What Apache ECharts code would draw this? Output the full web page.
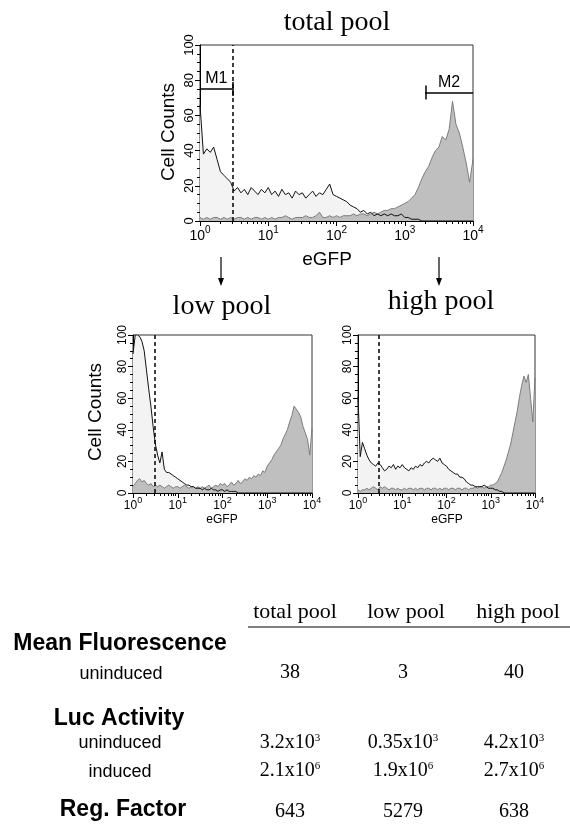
<!DOCTYPE html>
<html><head><meta charset="utf-8">
<script src="https://cdn.jsdelivr.net/npm/echarts@6/dist/echarts.min.js"></script>
<style>html,body{margin:0;padding:0;background:#fff}#c{width:570px;height:827px}</style>
</head><body><div id="c"></div>
<script>
const SANS = '"Liberation Sans", Arial, sans-serif';
const SERIF = '"Liberation Serif", "Times New Roman", serif';

// ---- data ----
const panelTitles = ['total pool', 'low pool', 'high pool'];
const channelsPerDecade = 20; // histogram channels: 0.05 decade each, from 10^0 to 10^4
const totalUninduced = [66,38,41,39,42,35,28,26,24,22, 17,19,16,18,15,19,17,15,18,16, 19,15,17,14,18,15,16,13,17,15, 16,13,15,17,14,16,15,18,21,15, 14,13,12,11,9,8,7,5,6,4, 5,3,4,3,4,3,4,3,3,4, 2,2,1,1,1,0,0,0,0,0, 0,0,0,0,0,0,0,0,0,0,0];
const totalInduced = [2,1,2,1,2,2,1,2,1,2, 1,2,2,1,2,1,2,2,1,2, 1,2,1,2,2,3,2,1,2,2, 2,3,2,2,3,5,2,2,3,2, 3,2,3,3,3,4,3,4,4,3, 4,5,4,5,6,6,7,7,8,9, 10,11,13,15,19,24,28,31,36,40, 42,48,46,52,68,55,50,42,33,22,35];
const lowUninduced = [88,100,100,99,96,90,78,66,55,42, 31,24,19,26,15,13,13,12,11,10, 9,8,7,6,5,5,4,4,3,3, 3,2,3,2,2,3,2,2,1,2, 2,1,2,1,1,1,1,0,0,0, 0,0,0,0,0,0,0,0,0,0, 0,0,0,0,0,0,0,0,0,0, 0,0,0,0,0,0,0,0,0,0,0];
const lowInduced = [4,6,8,9,7,8,6,5,6,4, 5,4,5,4,3,4,5,4,3,4, 4,3,4,5,4,3,4,4,3,4, 3,4,3,4,5,3,4,5,4,6, 5,6,4,5,7,5,6,8,6,7, 9,8,10,9,11,10,12,11,14,13, 17,19,21,24,26,28,30,34,37,40, 45,49,55,53,51,48,42,38,34,24,41];
const highUninduced = [61,23,32,28,24,21,19,18,17,19, 18,16,14,15,17,16,18,15,17,16, 18,16,15,14,16,15,17,16,18,17, 19,20,19,21,22,21,20,22,19,18, 17,15,14,13,12,12,10,10,9,7, 6,5,5,4,4,4,4,5,4,3, 3,3,2,2,1,1,0,0,0,0, 0,0,0,0,0,0,0,0,0,0,0];
const highInduced = [2,1,2,2,3,2,3,4,3,2, 4,3,4,3,2,3,3,2,3,2, 2,3,2,3,3,2,3,2,3,3, 2,3,3,2,3,3,2,3,2,3, 3,2,3,3,2,3,3,2,3,3, 2,3,3,4,3,4,4,3,4,4, 5,5,6,7,10,13,17,21,26,31, 38,45,52,61,68,74,70,75,60,45,73];
const dashedCut = 3;
const gateM1 = [1, 3], gateM1Level = 75;
const gateM2 = [2000, 10000], gateM2Level = 73;
const minorXTicks = [2,3,4,5,6,7,8,9,20,30,40,50,60,70,80,90,200,300,400,500,600,700,800,900,2000,3000,4000,5000,6000,7000,8000,9000];

const tableColumns = ['total pool', 'low pool', 'high pool'];
const meanFluorUninduced = ['38', '3', '40'];
const lucUninducedMant = ['3.2', '0.35', '4.2'], lucUninducedExp = ['3', '3', '3'];
const lucInducedMant = ['2.1', '1.9', '2.7'], lucInducedExp = ['6', '6', '6'];
const regFactor = ['643', '5279', '638'];

// ---- layout ----
const grids = [
  {left: 200, top: 45, width: 273, height: 176},
  {left: 133, top: 335, width: 179, height: 158},
  {left: 358, top: 335, width: 177, height: 158}
];
const labelSizes = [{b: 14, s: 10, y: 13, m: 4}, {b: 12, s: 9, y: 12, m: 3}, {b: 12, s: 9, y: 12, m: 3}];
const seriesSets = [[totalUninduced, totalInduced], [lowUninduced, lowInduced], [highUninduced, highInduced]];

function toPoints(vals) { return vals.map((v, i) => [Math.pow(10, i / channelsPerDecade), v]); }

const xAxes = [], yAxes = [], series = [];
grids.forEach((g, i) => {
  const ls = labelSizes[i];
  xAxes.push({
    type: 'log', logBase: 10, min: 1, max: 10000, gridIndex: i, position: 'bottom',
    axisLine: {show: true, lineStyle: {color: '#000', width: 1}},
    axisTick: {show: true, length: 5, lineStyle: {color: '#000'}},
    splitLine: {show: false},
    axisLabel: {
      margin: ls.m, color: '#000',
      formatter: v => '{b|10}{s|' + Math.round(Math.log10(v)) + '}',
      rich: {
        b: {fontSize: ls.b, fontFamily: SANS, color: '#000', lineHeight: ls.b + 4, verticalAlign: 'bottom'},
        s: {fontSize: ls.s, fontFamily: SANS, color: '#000', lineHeight: ls.s, verticalAlign: 'top'}
      }
    }
  });
  xAxes.push({
    type: 'log', logBase: 10, min: 1, max: 10000, gridIndex: i, position: 'bottom', offset: 0,
    axisLine: {show: false}, axisLabel: {show: false}, splitLine: {show: false},
    axisTick: {show: true, length: 3, customValues: minorXTicks, lineStyle: {color: '#000'}}
  });
  yAxes.push({
    type: 'value', min: 0, max: 100, interval: 20, gridIndex: i,
    axisLine: {show: true, lineStyle: {color: '#000'}},
    axisTick: {show: true, length: 5, lineStyle: {color: '#000'}},
    minorTick: {show: true, splitNumber: 4, length: 3, lineStyle: {color: '#000'}},
    splitLine: {show: false}, minorSplitLine: {show: false},
    axisLabel: {rotate: 90, fontSize: ls.y, fontFamily: SANS, color: '#000', margin: 4}
  });
  const [unind, ind] = seriesSets[i];
  const base = {type: 'line', xAxisIndex: 2 * i, yAxisIndex: i, showSymbol: false, symbol: 'none', animation: false, silent: true};
  series.push(Object.assign({}, base, {
    z: 1, data: toPoints(unind), lineStyle: {width: 0, opacity: 0}, areaStyle: {color: '#f3f3f3', opacity: 1}
  }));
  series.push(Object.assign({}, base, {
    z: 2, data: toPoints(ind), lineStyle: {width: 1, color: '#7c7c7c'}, areaStyle: {color: '#bfbfbf', opacity: 1}
  }));
  const mlData = [{xAxis: dashedCut, lineStyle: {type: [4, 3], color: '#000', width: 1.5}, label: {show: false}}];
  if (i === 0) {
    const gl = {type: 'solid', color: '#000', width: 1.5};
    mlData.push([{coord: [gateM1[0], gateM1Level], lineStyle: gl,
      label: {show: true, formatter: 'M1', position: 'insideMiddleTop', distance: 2, fontSize: 16, fontFamily: SANS, color: '#000'}},
      {coord: [gateM1[1], gateM1Level]}]);
    mlData.push([{coord: [gateM1[1], gateM1Level - 4], lineStyle: gl, label: {show: false}}, {coord: [gateM1[1], gateM1Level + 4]}]);
    mlData.push([{coord: [gateM2[0], gateM2Level], lineStyle: gl,
      label: {show: true, formatter: 'M2', position: 'insideMiddleTop', distance: 2, fontSize: 16, fontFamily: SANS, color: '#000'}},
      {coord: [gateM2[1], gateM2Level]}]);
    mlData.push([{coord: [gateM2[0], gateM2Level - 4], lineStyle: gl, label: {show: false}}, {coord: [gateM2[0], gateM2Level + 4]}]);
  }
  series.push(Object.assign({}, base, {
    z: 3, data: toPoints(unind), lineStyle: {width: 1, color: '#111'},
    markLine: {silent: true, animation: false, symbol: ['none', 'none'], data: mlData}
  }));
});

// ---- graphic texts ----
function txt(x, y, text, font, opts) {
  return {type: 'text', x: x, y: y, silent: true, style: Object.assign({
    text: text, font: font, fill: '#000', align: 'center', verticalAlign: 'middle'}, opts || {})};
}
function vtxt(x, y, text, font) {
  return {type: 'text', x: x, y: y, rotation: Math.PI / 2, silent: true,
    style: {text: text, font: font, fill: '#000', align: 'center', verticalAlign: 'middle'}};
}
function arrow(x, y1, y2) {
  return [
    {type: 'line', silent: true, shape: {x1: x, y1: y1, x2: x, y2: y2 - 6}, style: {stroke: '#000', lineWidth: 1.2}},
    {type: 'polygon', silent: true, shape: {points: [[x - 3, y2 - 8], [x + 3, y2 - 8], [x, y2]]}, style: {fill: '#000'}}
  ];
}
const supRich = {s: {fontSize: 11, fontFamily: SERIF, verticalAlign: 'top', lineHeight: 12, padding: [0, 0, 6, 0]}};
const colX = [290, 403, 514];
const headX = [295, 406, 518];
const graphics = [];
graphics.push(txt(337, 23, panelTitles[0], '28px ' + SERIF));
graphics.push(txt(222, 307, panelTitles[1], '28px ' + SERIF));
graphics.push(txt(441, 302, panelTitles[2], '28px ' + SERIF));
graphics.push(vtxt(169, 132, 'Cell Counts', '19px ' + SANS));
graphics.push(vtxt(96, 412, 'Cell Counts', '19px ' + SANS));
graphics.push(txt(327, 260, 'eGFP', '19px ' + SANS));
graphics.push(txt(222, 520, 'eGFP', '12px ' + SANS));
graphics.push(txt(447, 520, 'eGFP', '12px ' + SANS));
graphics.push(...arrow(221, 257, 286));
graphics.push(...arrow(439, 257, 286));
// table
tableColumns.forEach((c, k) => graphics.push(txt(headX[k], 612, c, '22px ' + SERIF)));
graphics.push({type: 'line', silent: true, shape: {x1: 248, y1: 627, x2: 570, y2: 627}, style: {stroke: '#000', lineWidth: 1}});
graphics.push(txt(120, 644, 'Mean Fluorescence', 'bold 23px ' + SANS));
graphics.push(txt(121, 674, 'uninduced', '18px ' + SANS));
meanFluorUninduced.forEach((v, k) => graphics.push(txt(colX[k], 673, v, '20px ' + SERIF)));
graphics.push(txt(119, 719, 'Luc Activity', 'bold 23px ' + SANS));
graphics.push(txt(120, 743, 'uninduced', '18px ' + SANS));
lucUninducedMant.forEach((v, k) => graphics.push(txt(colX[k], 743, v + 'x10{s|' + lucUninducedExp[k] + '}', '20px ' + SERIF, {rich: supRich})));
graphics.push(txt(120, 772, 'induced', '18px ' + SANS));
lucInducedMant.forEach((v, k) => graphics.push(txt(colX[k], 771, v + 'x10{s|' + lucInducedExp[k] + '}', '20px ' + SERIF, {rich: supRich})));
graphics.push(txt(123, 810, 'Reg. Factor', 'bold 23px ' + SANS));
regFactor.forEach((v, k) => graphics.push(txt(colX[k], 812, v, '20px ' + SERIF)));

const chart = echarts.init(document.getElementById('c'), null, {renderer: 'canvas'});
chart.setOption({
  animation: false,
  backgroundColor: '#fff',
  grid: grids.map(g => Object.assign({show: true, borderColor: '#333', borderWidth: 1, backgroundColor: 'transparent', containLabel: false}, g)),
  xAxis: xAxes,
  yAxis: yAxes,
  series: series,
  graphic: graphics
});
</script></body></html>
